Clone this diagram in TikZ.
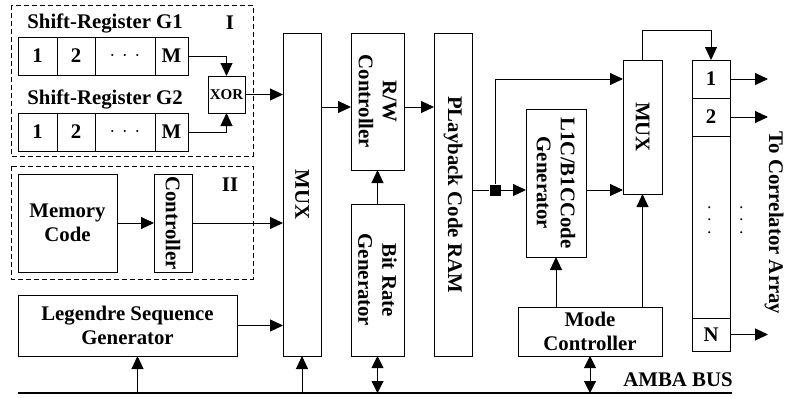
\documentclass[tikz,border=0pt]{standalone}
\usepackage{fontspec}
\setmainfont{Liberation Serif}
\usetikzlibrary{arrows.meta,positioning}
\newcommand{\dotrow}{$\cdot$\hspace{3.5pt}$\cdot$\hspace{3.5pt}$\cdot$}
\tikzset{blk/.style={draw,line width=0.5pt,inner sep=0pt,outer sep=0pt},
  lbl/.style={font=\bfseries\fontsize{10.4}{12}\selectfont,align=center,inner sep=0pt},
  arr/.style={line width=0.5pt,-{Triangle[length=6.5pt,width=6pt]}},
  darr/.style={line width=0.5pt,{Triangle[length=6pt,width=6pt]}-{Triangle[length=6pt,width=6pt]}},
  grp/.style={draw,line width=0.5pt,dash pattern=on 2.5pt off 1.5pt}}

\begin{document}
\begin{tikzpicture}[x=0.5pt,y=-0.5pt]
            \useasboundingbox (0,0) rectangle (785,397);
            % group I: two shift registers and XOR
            \draw[grp] (11,5) rectangle (253,156);
            \node[lbl] (grpI) at (230,23) {I};
            \foreach \r/\y in {1/56,2/132} {
                \node[lbl,anchor=west] (g\r T) at (27,\y-33) {Shift-Register G\r};
                \node[blk,lbl,minimum width=19.5pt,minimum height=19pt] (g\r a) at (37.5,\y) {1};
                \node[blk,lbl,minimum width=19pt,minimum height=19pt,right=0pt of g\r a] (g\r b) {2};
                \node[blk,lbl,minimum width=30pt,minimum height=19pt,right=0pt of g\r b] (g\r c) {\dotrow};
                \node[blk,lbl,minimum width=16.5pt,minimum height=19pt,right=0pt of g\r c] (g\r d) {M};
            }
            \node[blk,font=\bfseries\fontsize{7.5}{9}\selectfont,minimum size=18.5pt] (xor) at (226.5,94.5) {XOR};
            \draw[arr] (g1d.east) -| (xor.north);
            \draw[arr] (g2d.east) -| (xor.south);

            % group II: memory code
            \draw[grp] (11,166) rectangle (253,279);
            \node[lbl] (grpII) at (230,185) {II};
            \node[blk,lbl,minimum width=49.5pt,minimum height=49pt] (mem) at (67.5,223) {Memory\\Code};
            \node[blk,minimum width=19pt,minimum height=49pt] (ctrl) at (173,223) {};
            \node[lbl,rotate=-90] (ctrlT) at (ctrl) {Controller};
            \draw[arr] (mem) -- (ctrl);

            % Legendre
            \node[blk,lbl,minimum width=109.5pt,minimum height=30.5pt] (leg) at (127.5,325.5) {Legendre Sequence\\Generator};

            % MUX
            \node[blk,minimum width=19pt,minimum height=161.5pt] (mux) at (302,194.5) {};
            \node[lbl,rotate=-90] (muxT) at (mux) {MUX};
            \draw[arr] (xor.east) -- (mux.west |- xor.east);
            \draw[arr] (ctrl.east) -- (mux.west |- ctrl.east);
            \draw[arr] (leg.east) -- (mux.west |- leg.east);

            % R/W, bit rate, playback RAM
            \node[blk,minimum width=26.5pt,minimum height=68.5pt] (rw) at (377.5,101.5) {};
            \node[lbl,rotate=-90] (rwT) at (rw) {R/W\\Controller};
            \node[blk,minimum width=26.5pt,minimum height=76pt] (bit) at (377.5,280) {};
            \node[lbl,rotate=-90] (bitT) at (bit) {Bit Rate\\Generator};
            \node[blk,minimum width=19pt,minimum height=161.5pt] (pb) at (453,194.5) {};
            \node[lbl,rotate=-90] (pbT) at (pb) {PLayback Code RAM};
            \coordinate (rwIn) at ([yshift=-2.75pt]rw.west);
            \draw[arr] (mux.east |- rwIn) -- (rwIn);
            \draw[arr] (rw.east |- rwIn) -- (pb.west |- rwIn);
            \draw[arr] (bit) -- (rw);

            % code generator and second MUX
            \node[blk,minimum width=30pt,minimum height=74pt] (l1c) at (556,183) {};
            \node[lbl,rotate=-90] (l1cT) at (l1c) {L1C/B1CCode\\Generator};
            \node[blk,minimum width=19.5pt,minimum height=67pt] (mux2) at (642.5,127) {};
            \node[lbl,rotate=-90] (mux2T) at (mux2) {MUX};
            \node[fill,minimum size=5.5pt,inner sep=0pt] (jn) at (495,190) {};

            % correlator channels
            \node[blk,lbl,minimum width=19pt,minimum height=19pt] (c1) at (711,79) {1};
            \node[blk,lbl,minimum width=19pt,minimum height=19pt,below=0pt of c1] (c2) {2};
            \node[blk,minimum width=19pt,minimum height=91pt,below=0pt of c2] (cm) {};
            \node[blk,lbl,minimum width=19pt,minimum height=16.5pt,below=0pt of cm] (cN) {N};
            \node[lbl,rotate=90] (dotsA) at (710,220) {\dotrow};
            \node[lbl,rotate=90] (dotsB) at (742,220) {\dotrow};
            \node[lbl,rotate=-90] (outT) at (774,223) {To Correlator Array};
            \foreach \c in {c1,c2,cN}
                \draw[arr] (\c.east) -- ++(38,0);

            \draw (pb.east |- jn) -- (jn);
            \draw[arr] (jn) -- (l1c.west |- jn);
            \draw[arr] (jn) |- (mux2.west |- c1);
            \draw[arr] (l1c.east |- jn) -- (mux2.west |- jn);
            \draw[arr] (mux2.north) -- ++(0,-30) -| (c1.north);

            % mode controller
            \node[blk,lbl,minimum width=72pt,minimum height=24.5pt] (mode) at (590,331.5) {Mode\\Controller};
            \draw[arr] (l1c.south |- mode.north) -- (l1c.south);
            \draw[arr] (mux2.south |- mode.north) -- (mux2.south);

            % AMBA bus
            \coordinate (busL) at (18,393);
            \coordinate (busR) at (732,393);
            \draw[line width=1.3pt] (busL) -- (busR);
            \node[lbl] (amba) at (678,380) {AMBA BUS};
            \coordinate (legIn) at ([xshift=5pt]leg.south);
            \draw[arr] (legIn |- busL) -- (legIn);
            \draw[arr] (mux.south |- busL) -- (mux.south);
            \draw[darr] (bit.south) -- (bit.south |- busL);
            \draw[darr] (mode.south) -- (mode.south |- busL);
\end{tikzpicture}
\end{document}
